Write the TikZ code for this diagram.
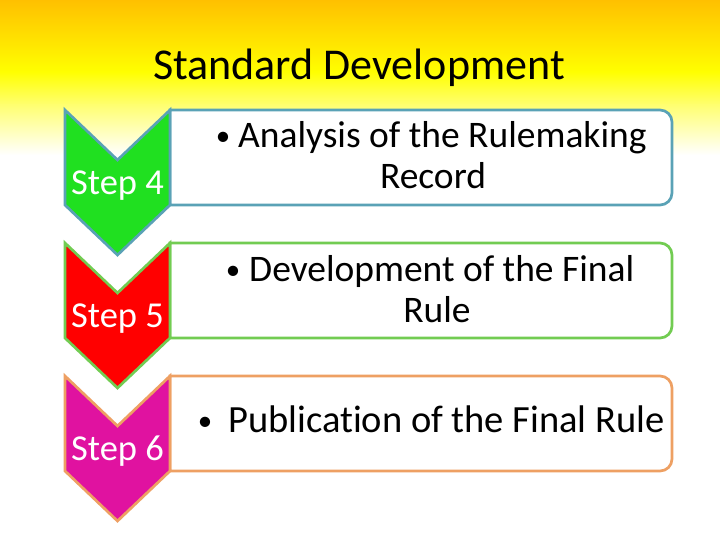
\documentclass[tikz,border=0pt]{standalone}
\usepackage{fontspec}
\setmainfont{Carlito}[Ligatures=NoCommon]
\definecolor{bgtop}{HTML}{FFC000}
\definecolor{bgyel}{HTML}{FFFF00}
\definecolor{bgpale}{HTML}{FFFF70}
\definecolor{gfill}{HTML}{20E020}
\definecolor{gline}{HTML}{5AA2B6}
\definecolor{rfill}{HTML}{FF0000}
\definecolor{rline}{HTML}{72CC52}
\definecolor{mfill}{HTML}{E012A0}
\definecolor{mline}{HTML}{EEA063}
\begin{document}
\begin{tikzpicture}[x=1pt,y=-1pt,
  chev/.style={line width=2.7pt,line join=miter},
  boxshape/.style={fill=white,line width=2.7pt},
  steplbl/.style={text=white,font=\fontsize{36.5}{40}\selectfont,anchor=base,inner sep=0pt},
  bodytxt/.style={font=\fontsize{37.5}{40}\selectfont,anchor=base west,inner sep=0pt},
  bodyctr/.style={font=\fontsize{37.5}{40}\selectfont,anchor=base,inner sep=0pt},
  bul/.style={font=\fontsize{29}{30}\selectfont,anchor=base,inner sep=0pt}]
\useasboundingbox (0,0) rectangle (720,540);
% background
\fill[white] (0,0) rectangle (720,540);
\fill[top color=bgtop,bottom color=bgyel] (0,0) rectangle (720,72);
\fill[top color=bgyel,bottom color=bgpale] (0,71.5) rectangle (720,105);
\fill[top color=bgpale,bottom color=white] (0,104.5) rectangle (720,155);
% title
\node[font=\fontsize{44}{50}\selectfont,anchor=base,inner sep=0pt] (title) at (359,80) {Standard Development};
% boxes
\draw[boxshape,draw=gline] (170,110) -- (660,110) arc[start angle=-90,end angle=0,radius=12] -- (672,193) arc[start angle=0,end angle=90,radius=12] -- (170,205) -- cycle;
\draw[boxshape,draw=rline] (170,243) -- (660,243) arc[start angle=-90,end angle=0,radius=12] -- (672,326) arc[start angle=0,end angle=90,radius=12] -- (170,338) -- cycle;
\draw[boxshape,draw=mline] (170,376) -- (660,376) arc[start angle=-90,end angle=0,radius=12] -- (672,459) arc[start angle=0,end angle=90,radius=12] -- (170,471) -- cycle;
% chevrons
\draw[chev,fill=gfill,draw=gline] (65,110) -- (117.5,160) -- (170,110) -- (170,205) -- (117.5,255) -- (65,205) -- cycle;
\draw[chev,fill=rfill,draw=rline] (65,243) -- (117.5,293) -- (170,243) -- (170,338) -- (117.5,388) -- (65,338) -- cycle;
\draw[chev,fill=mfill,draw=mline] (65,376) -- (117.5,426) -- (170,376) -- (170,471) -- (117.5,521) -- (65,471) -- cycle;
% step labels
\node[steplbl] (s4) at (117.5,194.5) {Step 4};
\node[steplbl] (s5) at (117.5,327.5) {Step 5};
\node[steplbl] (s6) at (117.5,460.5) {Step 6};
% texts
\node[bul] (b1) at (223,146) {•};
\node[bodytxt] (t1a) at (238,148) {Analysis of the Rulemaking};
\node[bodyctr] (t1b) at (433,189) {Record};
\node[bul] (b2) at (233,279) {•};
\node[bodytxt] (t2a) at (249,281) {Development of the Final};
\node[bodyctr] (t2b) at (437,322) {Rule};
\node[bul] (b3) at (205,430) {•};
\node[bodytxt,font=\fontsize{38.5}{40}\selectfont] (t3) at (228,432) {Publication of the Final Rule};
\end{tikzpicture}
\end{document}
